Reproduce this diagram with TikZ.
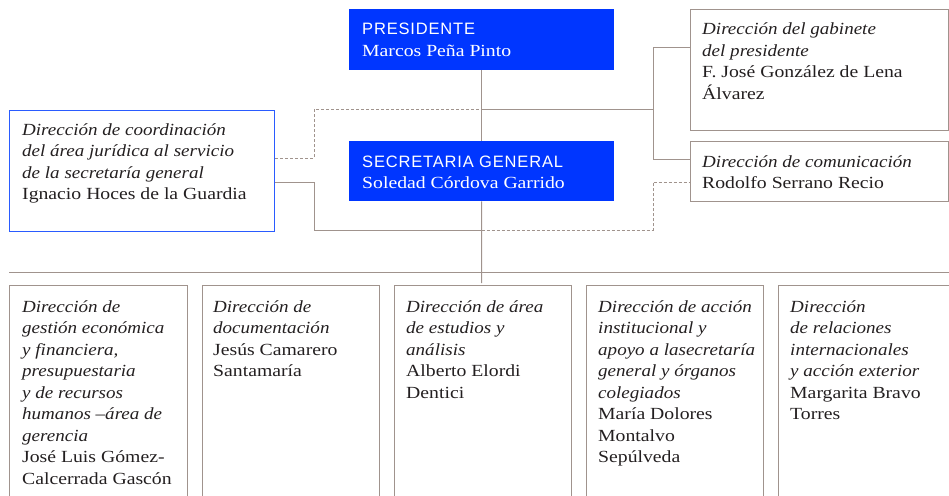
\documentclass[tikz,border=0pt]{standalone}
\usepackage{fontspec}
\setmainfont{Liberation Serif}[UprightFeatures={FakeStretch=1.16}, ItalicFeatures={FakeStretch=1.12}]
\newfontfamily\headsans{Liberation Sans}[LetterSpace=5]
\definecolor{orgblue}{HTML}{0036FF}
\definecolor{lineblue}{HTML}{2A5BFF}
\definecolor{taupe}{HTML}{A0938D}
\definecolor{ink}{HTML}{231F20}
\newcommand\tb[1]{\vtop{\baselineskip=21.5pt\relax\halign{##\hfil\cr#1\crcr}}}
\newcommand\hs[1]{{\headsans\fontsize{16.5}{21.5}\selectfont #1}}
\tikzset{
  bluebox/.style={fill=orgblue, draw=none, anchor=north west, inner sep=0, minimum height=#1},
  graybox/.style={draw=taupe, line width=1.2pt, anchor=north west, inner sep=0},
  txt/.style={anchor=base west, inner sep=0, text=ink, font=\fontsize{17}{21.5}\selectfont},
  wtxt/.style={txt, text=white},
  conn/.style={draw=taupe, line width=1pt},
  dconn/.style={draw=taupe, line width=1pt, dash pattern=on 3pt off 2pt},
}
\begin{document}
\begin{tikzpicture}[x=1pt,y=-1pt]
\useasboundingbox (0,0) rectangle (949,495);
% boxes
\node[bluebox=61pt, minimum width=265pt] (pres) at (349,9) {};
\node[bluebox=60pt, minimum width=265pt] (sec) at (349,141) {};
\node[draw=lineblue, line width=1pt, anchor=north west, inner sep=0, minimum width=265pt, minimum height=121pt] (lft) at (9,110) {};
\node[graybox, minimum width=258pt, minimum height=121pt] (gab) at (690,9) {};
\node[graybox, minimum width=258pt, minimum height=60pt] (com) at (690,141) {};
\node[graybox, minimum width=178pt, minimum height=215pt] (b1) at (9,285) {};
\node[graybox, minimum width=177pt, minimum height=215pt] (b2) at (202,285) {};
\node[graybox, minimum width=177pt, minimum height=215pt] (b3) at (394,285) {};
\node[graybox, minimum width=177pt, minimum height=215pt] (b4) at (586,285) {};
\node[graybox, minimum width=175pt, minimum height=215pt] (b5) at (778,285) {};
% coordinates
\coordinate (mb) at (481.5,283);
\coordinate (hl) at (9,272);
\coordinate (hr) at (949,272);
\coordinate (ja) at (653,109);
\coordinate (jb) at (314,109);
\coordinate (jc) at (314,230);
\coordinate (jd) at (653,230);
% connectors
\draw[conn] (pres.south) -- (sec.north);
\draw[conn] (sec.south) -- (mb);
\draw[conn] (hl) -- (hr);
\draw[conn] (pres.south |- ja) -- (ja);
\draw[conn] (gab.west |- 0,48) -- (653,48) -- (653,159) -- (com.west |- 0,159);
\draw[dconn] (lft.east |- 0,158) -| (jb) -- (pres.south |- jb);
\draw[conn] (lft.east |- 0,182) -| (jc) -- (sec.south |- jc);
\draw[dconn] (sec.south |- jd) -- (jd) |- (com.west |- 0,182);
% texts
\node[wtxt] (tpres) at (362,35) {\tb{\hs{PRESIDENTE}\cr Marcos Peña Pinto}};
\node[wtxt] (tsec) at (362,167) {\tb{\hs{SECRETARIA GENERAL}\cr Soledad Córdova Garrido}};
\node[txt] (tlft) at (22,135) {\tb{\textit{Dirección de coordinación}\cr \textit{del área jurídica al servicio}\cr \textit{de la secretaría general}\cr Ignacio Hoces de la Guardia}};
\node[txt] (tgab) at (702,35) {\tb{\textit{Dirección del gabinete}\cr \textit{del presidente}\cr F. José González de Lena\cr Álvarez}};
\node[txt] (tcom) at (702,167) {\tb{\textit{Dirección de comunicación}\cr Rodolfo Serrano Recio}};
\node[txt] (tb1) at (22,312) {\tb{\textit{Dirección de}\cr \textit{gestión económica}\cr \textit{y financiera,}\cr \textit{presupuestaria}\cr \textit{y de recursos}\cr \textit{humanos –área de}\cr \textit{gerencia}\cr José Luis Gómez-\cr Calcerrada Gascón}};
\node[txt] (tb2) at (213,312) {\tb{\textit{Dirección de}\cr \textit{documentación}\cr Jesús Camarero\cr Santamaría}};
\node[txt] (tb3) at (406,312) {\tb{\textit{Dirección de área}\cr \textit{de estudios y}\cr \textit{análisis}\cr Alberto Elordi\cr Dentici}};
\node[txt] (tb4) at (598,312) {\tb{\textit{Dirección de acción}\cr \textit{institucional y}\cr \textit{apoyo a lasecretaría}\cr \textit{general y órganos}\cr \textit{colegiados}\cr María Dolores\cr Montalvo\cr Sepúlveda}};
\node[txt] (tb5) at (790,312) {\tb{\textit{Dirección}\cr \textit{de relaciones}\cr \textit{internacionales}\cr \textit{y acción exterior}\cr Margarita Bravo\cr Torres}};
\end{tikzpicture}
\end{document}
